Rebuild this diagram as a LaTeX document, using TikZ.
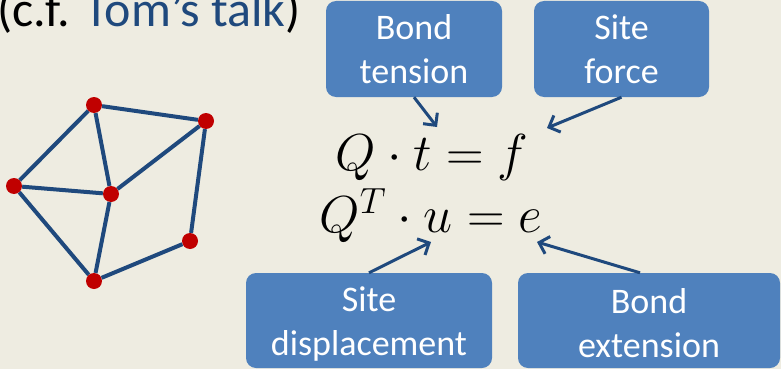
\RequirePackage{fix-cm}
\documentclass[tikz,border=0pt]{standalone}
\usepackage{fontspec}
\setmainfont{Carlito}
\usepackage{xcolor}
\usetikzlibrary{arrows.meta, positioning}

\definecolor{slidebg}{RGB}{238,236,225}
\definecolor{boxblue}{RGB}{79,129,189}
\definecolor{darkblue}{RGB}{31,73,125}
\definecolor{sitered}{RGB}{192,0,0}

\begin{document}
\begin{tikzpicture}[x=1pt, y=-1pt,
  font=\fontsize{36}{44}\selectfont,
  lbl/.style={fill=boxblue, rounded corners=10pt, text=white, align=center,
              inner sep=0pt},
  arr/.style={-{Straight Barb[length=9pt, width=18pt]}, darkblue, line width=3pt},
  site/.style={circle, fill=sitered, minimum size=16pt, inner sep=0pt},
  bond/.style={darkblue, line width=4pt},
  eq/.style={anchor=base, font=\fontsize{52}{62}\selectfont}
]
\fill[slidebg] (0,0) rectangle (781,369);
\useasboundingbox (0,0) rectangle (781,369);

\node[anchor=base west, inner sep=0pt, font=\fontsize{50}{60}\selectfont] (ref) at (-3,27)
  {(c.f. \textcolor{darkblue}{Tom’s talk})};

% network
\node[site] (n1) at (94,105) {};
\node[site] (n2) at (206,121) {};
\node[site] (n3) at (14,186) {};
\node[site] (n4) at (111,194) {};
\node[site] (n5) at (190,241) {};
\node[site] (n6) at (94,281) {};

\foreach \a/\b in {n1/n2, n1/n3, n1/n4, n3/n4, n4/n2, n2/n5, n5/n6, n6/n3, n4/n6}
  \draw[bond] (\a) -- (\b);

% equations
\node[eq] (eqa) at (432,170) {$Q\cdot t = f$};
\node[eq] (eqb) at (431,232) {$Q^T\cdot u = e$};

% labels
\node[lbl, minimum width=176pt, minimum height=96pt] (bt) at (414,49) {Bond\\tension};
\node[lbl, minimum width=175pt, minimum height=96pt] (sf) at (621.5,49) {Site\\force};
\node[lbl, minimum width=246pt, minimum height=95pt] (sd) at (369,320.5) {\strut Site\\displacement};
\node[lbl, minimum width=262pt, minimum height=95pt] (be) at (649,320.5) {\strut Bond\\extension};

\coordinate (tt) at (437,127);
\coordinate (tf) at (547,128);
\coordinate (tu) at (431,242);
\coordinate (te) at (537,242);

\draw[arr] (bt.south) -- (tt);
\draw[arr] (sf.south) -- (tf);
\draw[arr] (sd.north) -- (tu);
\draw[arr] ([xshift=-9pt]be.north) -- (te);
\end{tikzpicture}
\end{document}
